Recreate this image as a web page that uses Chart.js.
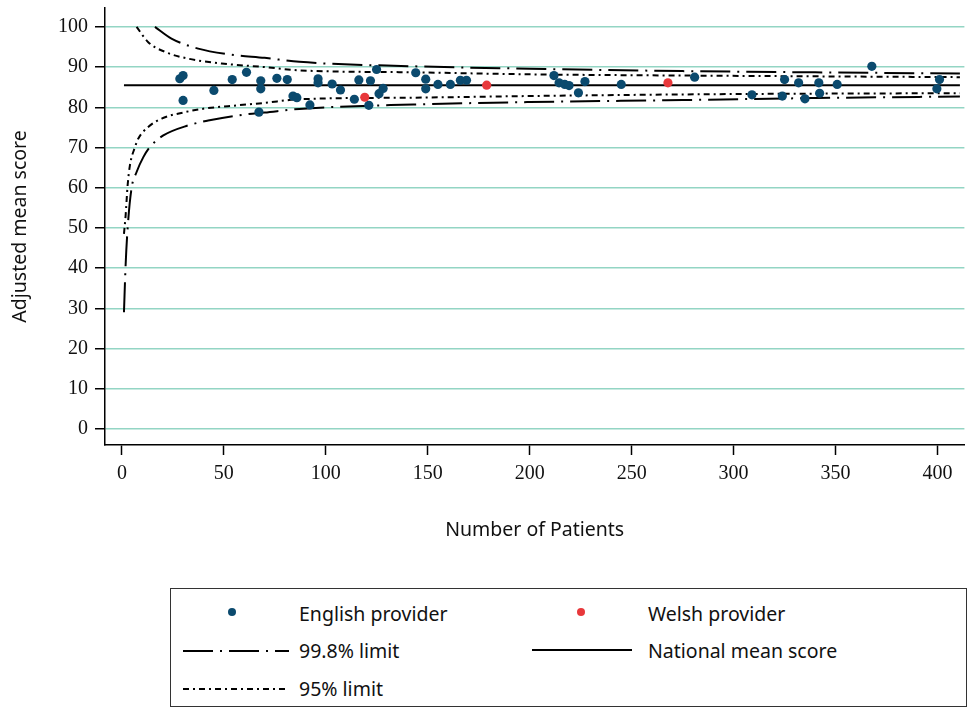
<!DOCTYPE html>
<html>
<head>
<meta charset="utf-8">
<script src="https://cdn.jsdelivr.net/npm/chart.js@4.4.1/dist/chart.umd.min.js"></script>
<style>
body{margin:0;background:#fff;width:969px;height:710px;overflow:hidden;position:relative}
#wrap{position:absolute;left:0;top:0;width:969px;height:560px}
#legend{position:absolute;left:170px;top:588px;width:797px;height:119px;border:1px solid #333;box-sizing:border-box}
#legend svg{position:absolute;left:0;top:0}
#legend .lbl{position:absolute;font-family:"Noto Sans",sans-serif;font-size:19.5px;line-height:22px;color:#111;white-space:nowrap}
</style>
</head>
<body>
<div id="wrap"><canvas id="chart" width="969" height="560"></canvas></div>
<div id="legend">
  <svg width="797" height="119">
    <circle cx="61" cy="23" r="4" fill="#0b4a6e"/>
    <circle cx="410" cy="23" r="4" fill="#e8383b"/>
    <line x1="12" y1="62" x2="118" y2="62" stroke="#000" stroke-width="2" stroke-dasharray="30 7 2 7"/>
    <line x1="361" y1="61" x2="461" y2="61" stroke="#000" stroke-width="2"/>
    <line x1="12" y1="100" x2="118" y2="100" stroke="#000" stroke-width="2" stroke-dasharray="6 4 2 4"/>
  </svg>
  <span class="lbl" style="left:128px;top:14px">English provider</span>
  <span class="lbl" style="left:477px;top:14px">Welsh provider</span>
  <span class="lbl" style="left:128px;top:51px">99.8% limit</span>
  <span class="lbl" style="left:477px;top:51px">National mean score</span>
  <span class="lbl" style="left:128px;top:89px">95% limit</span>
</div>
<script>
// axis ticks
var xTicks=[0,50,100,150,200,250,300,350,400];
var yTicks=[0,10,20,30,40,50,60,70,80,90,100];

// providers: number of patients / adjusted mean score
var englishN=[28.4,30,30,45.1,54.1,61.1,68.1,68.1,67.2,76,81.1,83.9,85.8,92.2,96.2,96.2,103.1,107.2,114,116.2,
  121.1,121.9,124.9,126.1,128.1,144.1,149,149,155,161.1,166,169,211.9,214.4,217.2,219.3,223.9,227.1,244.9,280.9,
  309,323.9,325,331.9,335,341.8,342.2,350.8,367.8,401,399.7];
var englishScore=[87.1,87.9,81.7,84.2,86.9,88.7,86.6,84.6,78.8,87.2,86.9,82.8,82.4,80.6,87.1,86.1,85.8,84.3,82,86.8,
  80.5,86.6,89.4,83.4,84.7,88.6,87,84.6,85.7,85.7,86.7,86.7,87.9,86.1,85.7,85.4,83.6,86.4,85.7,87.5,
  83.1,82.8,86.9,86.1,82.1,86.1,83.5,85.7,90.2,86.9,84.6];
var welshN=[119.1,178.9,267.8];
var welshScore=[82.5,85.5,86.1];

// national mean
var meanN=[1,411];
var meanScore=[85.46,85.46];

// control limits
var lowN=[1,1.8,2.8,4.7,7.2,10.5,13.7,20.3,32.5,42.3,60,70,87,143,200,275,340,411];
var low998=[29,40.6,49.9,59.8,63.9,67.6,70.1,73,75.5,76.7,78.2,78.7,79.6,80.7,81.3,81.8,82.3,82.7];
var low95N=[1,1.8,2.8,3.9,6.4,8,12.9,19.5,30.9,40.7,57,70,87,143,200,275,340,411];
var low95=[48.5,53,60.6,65.5,70.1,72.2,75.1,77.2,78.8,79.7,80.5,81.1,82,82.4,82.8,83.2,83.4,83.5];
var up998N=[16.2,24.3,37.4,53.8,70,87,143,200,275,340,411];
var up998=[100,97.1,94.6,93.1,92.3,91.3,90.2,89.6,89,88.7,88.4];
var up95N=[7.2,12.9,21,32.5,48.9,70,87,143,200,275,340,411];
var up95=[100,96.2,93.8,92.1,90.9,90,89.2,88.7,88.2,87.9,87.7,87.5];

function pts(xs,ys){return xs.map(function(x,i){return {x:x,y:ys[i]}})}

function limitSet(xs,ys,dash){
  return {type:"line",data:pts(xs,ys),borderColor:"#000",borderWidth:2,borderDash:dash,
    pointRadius:0,fill:false,cubicInterpolationMode:"monotone",order:2};
}

var serif={family:"'Liberation Serif','Times New Roman',serif",size:20};
var sans={family:"'Noto Sans',sans-serif",size:19.5};

new Chart(document.getElementById("chart"),{
  data:{datasets:[
    limitSet(up998N,up998,[30,7,2,7]),
    limitSet(lowN,low998,[30,7,2,7]),
    limitSet(up95N,up95,[6,4,2,4]),
    limitSet(low95N,low95,[6,4,2,4]),
    {type:"line",data:pts(meanN,meanScore),borderColor:"#000",borderWidth:2,pointRadius:0,order:2},
    {type:"scatter",data:pts(englishN,englishScore),backgroundColor:"#0b4a6e",borderWidth:0,pointRadius:4.6,order:1},
    {type:"scatter",data:pts(welshN,welshScore),backgroundColor:"#e8383b",borderWidth:0,pointRadius:4.6,order:0}
  ]},
  options:{
    responsive:false,animation:false,devicePixelRatio:1,
    layout:{padding:{top:8,right:1,left:0,bottom:0}},
    plugins:{legend:{display:false},tooltip:{enabled:false}},
    scales:{
      x:{type:"linear",min:-8.3,max:413.2,
        afterBuildTicks:function(s){s.ticks=xTicks.map(function(v){return {value:v}})},
        afterFit:function(s){s.height=115;s.paddingLeft=0;s.paddingRight=0},
        ticks:{font:serif,color:"#111",padding:7,maxRotation:0},
        grid:{drawOnChartArea:false,tickLength:10,tickColor:"#000",tickWidth:1.5},
        border:{color:"#000",width:1.5},
        title:{display:true,text:"Number of Patients",font:sans,color:"#111",padding:{top:4,bottom:18}}
      },
      y:{type:"linear",min:-4,max:104.7,
        afterBuildTicks:function(s){s.ticks=yTicks.map(function(v){return {value:v}})},
        afterFit:function(s){s.width=105;s.paddingTop=0;s.paddingBottom=0},
        ticks:{font:serif,color:"#111",padding:7},
        grid:{color:"#93d5c4",lineWidth:1.5,tickLength:10,tickColor:"#000",tickWidth:1.5},
        border:{color:"#000",width:1.5},
        title:{display:true,text:"Adjusted mean score",font:sans,color:"#111",padding:{top:9,bottom:0}}
      }
    }
  }
});
</script>
</body>
</html>
